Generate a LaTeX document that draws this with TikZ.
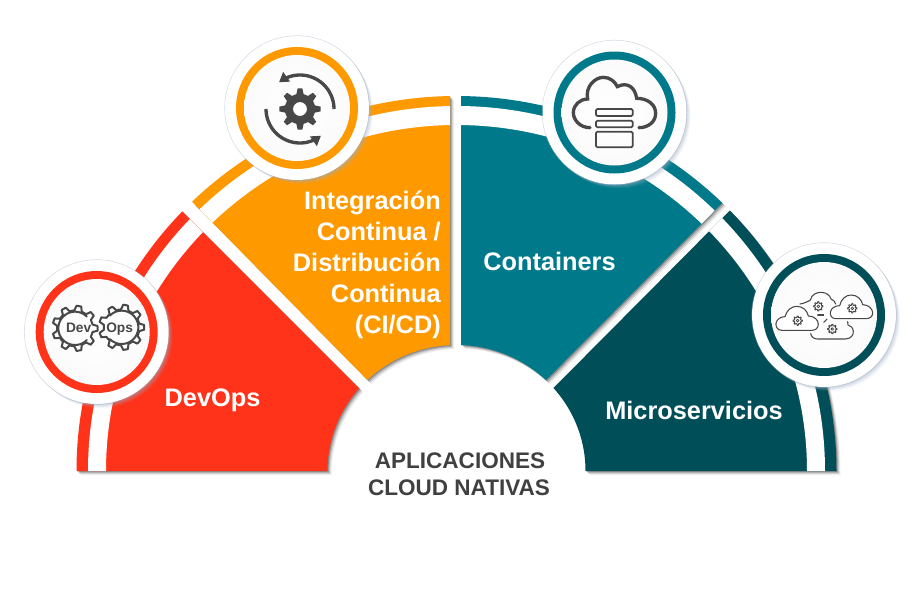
\documentclass[tikz,border=0pt]{standalone}
\usepackage{fontspec}
\setmainfont{Liberation Sans}
\usetikzlibrary{arrows.meta,calc}
\definecolor{cRed}{HTML}{FF331A}
\definecolor{cOrange}{HTML}{FF9900}
\definecolor{cTeal}{HTML}{007A8A}
\definecolor{cDark}{HTML}{004E58}
\definecolor{cIcon}{HTML}{484848}
\definecolor{cTitle}{HTML}{404040}
\definecolor{cHalo}{HTML}{9FB0C6}
\pgfdeclareradialshading{discshade}{\pgfpoint{0bp}{0bp}}{color(0bp)=(white);color(30bp)=(white!98!black);color(42bp)=(white!94!black);color(47bp)=(white!88!black);color(50bp)=(white!80!black)}
\tikzset{
  x=0.75pt,y=-0.75pt,
  segtext/.style={text=white,font=\fontsize{19}{23.25}\selectfont\bfseries,inner sep=0pt},
  titletext/.style={text=cTitle,font=\fontsize{16.9}{20}\selectfont\bfseries,inner sep=0pt},
  iconline/.style={draw=cIcon,line width=1.5pt,line join=round,line cap=round},
  iconbox/.style={draw=cIcon,line width=1.3pt,rounded corners=1pt},
  iconthin/.style={draw=cIcon,line width=0.8pt,line join=round,line cap=round},
  sync/.style={draw=cIcon,line width=2.5pt,-{Triangle[length=7pt,width=8.5pt]}},
}
\newcommand{\ringpath}[4]{(456.5,471) ellipse [x radius=#1,y radius=#2] (456.5,471) ellipse [x radius=#3,y radius=#4]}
\newcommand{\segshadow}[1]{%
  \foreach \d/\o in {1/.22,2/.16,3/.10,4/.06}{%
    \begin{scope}[shift={(\d,\d)}]
      \begin{scope}\clip #1;
        \fill[black,opacity=\o,even odd rule] \ringpath{380}{375}{129}{126};
      \end{scope}
    \end{scope}}}
\newcommand{\segment}[2]{%
  \begin{scope}\clip #2;
    \fill[#1,even odd rule] \ringpath{380}{375}{129}{126};
    \fill[white,even odd rule] \ringpath{368.5}{365}{350.5}{346};
  \end{scope}}
\newcommand{\badge}[3]{%
  \foreach \d/\o in {4/.10,3/.14,2/.18,1/.22}{\fill[cHalo,opacity=\o] (#1+\d,#2+\d) circle [radius=72];}
  \fill[white] (#1,#2) circle [radius=72];
  \draw[cHalo,draw opacity=.45,line width=.4pt] (#1,#2) circle [radius=72.3];
  \fill[#3] (#1,#2) circle [radius=61];
  \shade[shading=discshade] (#1,#2) circle [radius=53];
}
% #1 style, #2 cx, #3 cy, #4 outer r, #5 root r, #6 teeth, #7 extra path
\newcommand{\gear}[7]{%
  \pgfmathsetmacro{\gearstep}{360/#6}%
  \pgfmathtruncatemacro{\gearlast}{#6-1}%
  \path[#1] ($(#2,#3)+({-0.3*\gearstep}:#5)$)
  \foreach \gearidx in {0,...,\gearlast}{%
    -- ($(#2,#3)+({(\gearidx-0.3)*\gearstep}:#5)$)
    -- ($(#2,#3)+({(\gearidx-0.15)*\gearstep}:#4)$)
    -- ($(#2,#3)+({(\gearidx+0.15)*\gearstep}:#4)$)
    -- ($(#2,#3)+({(\gearidx+0.3)*\gearstep}:#5)$)
  } -- cycle #7;}
\begin{document}
\begin{tikzpicture}
\useasboundingbox (0,0) rectangle (921,615);
\fill[white] (0,0) rectangle (921,615);
\def\polyR{(40,471) -- (442,471) -- (150,179) -- (40,179) -- cycle}
\def\polyO{(450,60) -- (450,464) -- (150,159) -- (150,60) -- cycle}
\def\polyT{(461,60) -- (461,465.5) -- (760,165) -- (760,60) -- cycle}
\def\polyD{(471,471) -- (860,471) -- (860,170) -- (770,170) -- cycle}
\segshadow{\polyR}
\segshadow{\polyO}
\segshadow{\polyT}
\segshadow{\polyD}
\segment{cRed}{\polyR}
\segment{cOrange}{\polyO}
\segment{cTeal}{\polyT}
\segment{cDark}{\polyD}

\badge{96.7}{332}{cRed}
\badge{297}{108}{cOrange}
\badge{614.5}{112.5}{cTeal}
\badge{824}{315}{cDark}

% DevOps icon
\begin{scope}[shift={(10,240)},scale=1/3]
  \gear{iconline}{195}{265}{68}{54}{9}{}
  \gear{iconline}{335}{262}{68}{54}{9}{}
  \draw[iconline] plot[domain=45:315,samples=30] ({195+50*cos(\x)},{265+50*sin(\x)});
  \draw[iconline] plot[domain=-135:135,samples=30] ({335+50*cos(\x)},{262+50*sin(\x)});
  \node (devlabel) [text=cIcon,font=\fontsize{10.3}{12}\selectfont\bfseries,inner sep=0pt] at (206,265) {Dev};
  \node (opslabel) [text=cIcon,font=\fontsize{10.3}{12}\selectfont\bfseries,inner sep=0pt] at (329,266) {Ops};
\end{scope}

% CI/CD icon
\begin{scope}[shift={(215,35)},scale=1/3]
  \gear{fill=cIcon,even odd rule}{255}{222}{62}{46}{8}{(255,222) circle [radius=21]}
  \draw[sync] plot[domain=0:-128,samples=30] ({255+102*cos(\x)},{222+102*sin(\x)});
  \draw[sync] plot[domain=180:52,samples=30] ({255+102*cos(\x)},{222+102*sin(\x)});
\end{scope}

% Containers icon
\begin{scope}[shift={(535,30)},scale=1/3]
  \draw[draw=cIcon,line width=2.5pt,line cap=round]
    (165,293) .. controls (135,293) and (115,270) .. (115,248)
    .. controls (115,225) and (135,207) .. (158,207)
    .. controls (150,170) and (180,142) .. (205,142)
    .. controls (225,142) and (240,155) .. (247,170)
    .. controls (275,155) and (300,170) .. (305,205)
    .. controls (340,205) and (362,225) .. (362,250)
    .. controls (362,275) and (340,293) .. (312,293);
  \draw[iconbox] (183,237) rectangle (293,258);
  \draw[iconbox] (183,272) rectangle (293,292);
  \draw[iconbox] (183,305) rectangle (293,352);
\end{scope}

% Microservices icon
\begin{scope}[shift={(745,235)},scale=1/3]
  \draw[iconthin] (165,207) .. controls (178,205) and (188,200) .. (196,195)
    .. controls (200,178) and (215,172) .. (228,172)
    .. controls (245,172) and (255,182) .. (258,192) .. controls (265,194) and (270,200) .. (272,207);
  \draw[iconthin] (218,240) -- (236,240);
  \draw[iconthin] (236,262) -- (246,252);
  \draw[iconthin,fill=white] (110,286) .. controls (95,286) and (92,272) .. (93,265)
    .. controls (95,252) and (108,245) .. (120,245)
    .. controls (125,225) and (140,214) .. (155,214)
    .. controls (175,214) and (187,228) .. (190,243)
    .. controls (208,243) and (220,255) .. (220,268)
    .. controls (220,280) and (210,286) .. (200,286) -- cycle;
  \draw[iconthin,fill=white] (272,251) .. controls (258,251) and (255,238) .. (256,232)
    .. controls (258,218) and (272,212) .. (284,212)
    .. controls (288,192) and (303,180) .. (318,180)
    .. controls (338,180) and (350,194) .. (353,209)
    .. controls (370,209) and (383,221) .. (383,234)
    .. controls (383,246) and (373,251) .. (362,251) -- cycle;
  \draw[iconthin] (197,296) .. controls (200,306) and (206,312) .. (218,312) -- (300,312)
    .. controls (318,312) and (326,300) .. (325,288)
    .. controls (324,276) and (314,272) .. (309,270) -- (308,260);
  \foreach \gx/\gy in {158/257,220/214,322/220,262/282}{
    \gear{iconthin,line width=.7pt}{\gx}{\gy}{14}{10}{8}{}
    \draw[iconthin,line width=.6pt] (\gx,\gy) circle [radius=4];
  }
\end{scope}

\node (devops) [segtext,anchor=center] at (212.5,400.5) {DevOps};
\node (cicd) [segtext,align=right,anchor=north east] at (441,191) {Integración\\Continua /\\Distribución\\Continua\\(CI/CD)};
\node (containers) [segtext] at (549.5,261) {Containers};
\node (micro) [segtext] at (694,410) {Microservicios};
\node (title1) [titletext] at (460,461) {APLICACIONES};
\node (title2) [titletext] at (459,488) {CLOUD NATIVAS};
\end{tikzpicture}
\end{document}
